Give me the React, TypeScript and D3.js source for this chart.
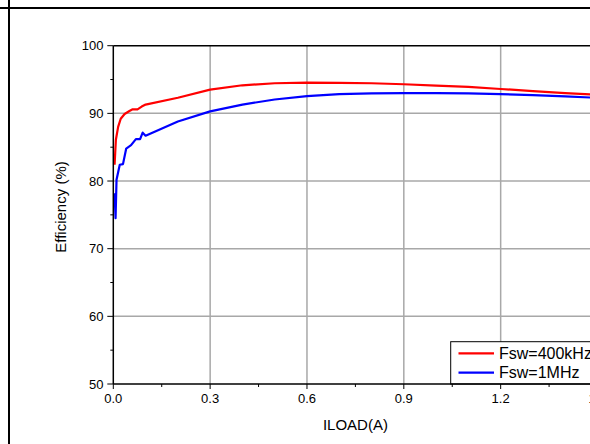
import React from "react";
import * as d3 from "d3";

const xTicks = [0.0, 0.3, 0.6, 0.9, 1.2, 1.5];
const xMinor = [0.15, 0.45, 0.75, 1.05, 1.35];
const yTicks = [50, 60, 70, 80, 90, 100];
const yMinor = [55, 65, 75, 85, 95];

const redX = [0.004, 0.008, 0.015, 0.023, 0.035, 0.05, 0.06, 0.075, 0.088, 0.1, 0.2, 0.3, 0.4, 0.5, 0.6, 0.7, 0.8, 0.9, 1.0, 1.1, 1.2, 1.3, 1.4, 1.5];
const redY = [82.4, 86.1, 88.0, 89.2, 89.9, 90.35, 90.6, 90.6, 91.0, 91.3, 92.3, 93.5, 94.15, 94.45, 94.55, 94.5, 94.45, 94.3, 94.1, 93.9, 93.6, 93.3, 93.0, 92.75];

const blueX = [0.004, 0.007, 0.01, 0.02, 0.03, 0.04, 0.055, 0.07, 0.083, 0.091, 0.1, 0.2, 0.3, 0.4, 0.5, 0.6, 0.7, 0.8, 0.9, 1.0, 1.1, 1.2, 1.3, 1.4, 1.5];
const blueY = [78.2, 74.5, 80.2, 82.4, 82.5, 84.8, 85.3, 86.2, 86.2, 87.15, 86.7, 88.8, 90.3, 91.3, 92.05, 92.55, 92.85, 92.95, 93.0, 93.0, 92.95, 92.85, 92.7, 92.5, 92.3];

const seriesNames = ["Fsw=400kHz", "Fsw=1MHz"];
const seriesColors = ["#ff0000", "#0000ff"];

export default function App() {
  const W = 590, H = 444;
  const x = d3.scaleLinear().domain([0, 1.5]).range([113.3, 597.5]);
  const y = d3.scaleLinear().domain([50, 100]).range([384, 45.7]);
  const line = d3.line<[number, number]>().x(d => x(d[0])).y(d => y(d[1]));
  const red = redX.map((v, i) => [v, redY[i]] as [number, number]);
  const blue = blueX.map((v, i) => [v, blueY[i]] as [number, number]);
  const font = "'Liberation Sans', Arial, sans-serif";
  const x0 = x(0), y0 = y(50), yTop = y(100), xR = x(1.5);
  return (
    <svg width={W} height={H} style={{ position: "absolute", left: 0, top: 0, background: "#fff" }} fontFamily={font}>
      <rect x={0} y={0} width={W} height={H} fill="#fff" />
      {/* outer frame */}
      <line x1={0} x2={W} y1={8} y2={8} stroke="#000" strokeWidth={2} />
      <line x1={9} x2={9} y1={0} y2={H} stroke="#000" strokeWidth={2} />
      {/* grid */}
      {xTicks.filter(t => t > 0).map(t => (
        <line key={"gx" + t} x1={x(t)} x2={x(t)} y1={yTop} y2={y0} stroke="#a8a8a8" strokeWidth={1.5} />
      ))}
      {yTicks.filter(t => t > 50 && t < 100).map(t => (
        <line key={"gy" + t} x1={x0} x2={xR} y1={y(t)} y2={y(t)} stroke="#a8a8a8" strokeWidth={1.5} />
      ))}
      {/* data */}
      <path d={line(red) || ""} fill="none" stroke={seriesColors[0]} strokeWidth={2.2} strokeLinejoin="round" />
      <path d={line(blue) || ""} fill="none" stroke={seriesColors[1]} strokeWidth={2.2} strokeLinejoin="round" />
      {/* axes */}
      <line x1={x0} x2={xR} y1={yTop} y2={yTop} stroke="#000" strokeWidth={1.5} />
      <line x1={x0} x2={x0} y1={yTop} y2={y0} stroke="#000" strokeWidth={1.5} />
      {yTicks.map(t => (
        <g key={"yt" + t}>
          <line x1={x0 - 6} x2={x0} y1={y(t)} y2={y(t)} stroke="#000" strokeWidth={1} />
          <text x={103.5} y={y(t) + 4.5} fontSize={13} textAnchor="end" fill="#000">{t}</text>
        </g>
      ))}
      {yMinor.map(t => (
        <line key={"ym" + t} x1={x0 - 3} x2={x0} y1={y(t)} y2={y(t)} stroke="#000" strokeWidth={1} />
      ))}
      {xTicks.map(t => (
        <g key={"xt" + t}>
          <line x1={x(t)} x2={x(t)} y1={y0} y2={y0 + 5} stroke="#000" strokeWidth={1} />
          <text x={x(t)} y={403} fontSize={13} textAnchor="middle" fill="#000">{t.toFixed(1)}</text>
        </g>
      ))}
      {xMinor.map(t => (
        <line key={"xm" + t} x1={x(t)} x2={x(t)} y1={y0} y2={y0 + 3} stroke="#000" strokeWidth={1} />
      ))}
      {/* legend */}
      <rect x={450.7} y={341.7} width={200} height={y0 - 341.7} fill="#fff" stroke="#000" strokeWidth={1} />
      {seriesNames.map((n, i) => (
        <g key={n}>
          <line x1={458.5} x2={494} y1={353.3 + i * 19.4} y2={353.3 + i * 19.4} stroke={seriesColors[i]} strokeWidth={2.2} />
          <text x={499} y={358.8 + i * 19.4} fontSize={16} fill="#000">{n}</text>
        </g>
      ))}
      <line x1={x0} x2={xR} y1={y0} y2={y0} stroke="#000" strokeWidth={1.5} />
      {/* axis titles */}
      <text x={355.4} y={430} fontSize={15} textAnchor="middle" fill="#000">ILOAD(A)</text>
      <text transform={`translate(66,207) rotate(-90)`} fontSize={15} textAnchor="middle" fill="#000">Efficiency (%)</text>
    </svg>
  );
}
